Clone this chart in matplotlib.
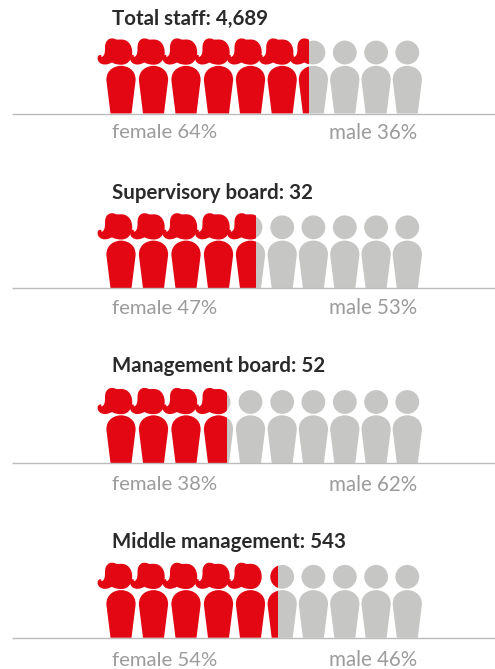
import matplotlib
matplotlib.use("Agg")
import matplotlib.pyplot as plt
from matplotlib.path import Path
from matplotlib.patches import PathPatch, Circle, Rectangle

# Workforce groups and their gender shares
groups = ["Total staff: 4,689", "Supervisory board: 32", "Management board: 52", "Middle management: 543"]
female_pct = [64, 47, 38, 54]
male_pct = [36, 53, 62, 46]
hair_counts = [7, 5, 4, 5]

RED = "#e30613"
GRAY = "#c6c6c4"
LABEL = "#9b9b9b"
TITLE = "#2a2a2a"
RULE = "#bcbcbc"
FONT = "Lato"

CENTERS = [121, 153.5, 186, 218.5, 250.5, 282.2, 313.4, 344.8, 376.1, 407.3]
RULE_Y = [113.5, 288.3, 463, 637.8]
TITLE_Y = [19, 193, 366.5, 542]
LABEL_Y = [133, 308, 485, 660]
ROW_X0, ROW_W = 107, 316


def body_path(cx, base):
    top = base - 47.7
    verts = [
        (cx - 10.5, base), (cx - 14.6, base - 33),
        (cx - 15.0, top + 3), (cx - 5, top), (cx, top),
        (cx + 5, top), (cx + 15.0, top + 3), (cx + 14.6, base - 33),
        (cx + 10.5, base), (cx - 10.5, base),
    ]
    codes = [Path.MOVETO, Path.LINETO, Path.CURVE4, Path.CURVE4, Path.CURVE4,
             Path.CURVE4, Path.CURVE4, Path.CURVE4, Path.LINETO, Path.CLOSEPOLY]
    return Path(verts, codes)


def hair_path(cx, base):
    # Outline drawn clockwise from the curl, offsets from the head centre
    cy = base - 61
    pts = [
        (-23.4, 5.6),
        (-23.6, 9.0), (-20.5, 12.4), (-15.5, 12.0),
        (-12.0, 11.7), (-10.5, 10.6), (-9.0, 10.0),
        (-6.0, 11.8), (-2.5, 12.2), (0.5, 12.2),
        (8.0, 12.2), (11.2, 5.5), (11.2, 0.0),
        (11.2, -7.5), (7.0, -13.2), (0.0, -13.0),
        (-2.0, -13.0), (-3.5, -12.8), (-5.0, -13.0),
        (-7.0, -14.4), (-9.5, -14.2), (-11.0, -13.8),
        (-15.0, -12.5), (-16.0, -8.5), (-16.0, -5.0),
        (-16.0, -1.5), (-16.0, 1.5), (-17.6, 3.2),
        (-18.6, 4.4), (-20.2, 5.2), (-19.6, 3.2),
        (-20.0, 1.6), (-23.2, 2.2), (-23.4, 5.6),
    ]
    verts = [(cx + dx, cy + dy) for dx, dy in pts]
    codes = [Path.MOVETO] + [Path.CURVE4] * (len(pts) - 1)
    return Path(verts, codes)


fig = plt.figure(figsize=(4.95, 6.69), dpi=100)
ax = fig.add_axes([0, 0, 1, 1])
ax.set_xlim(0, 495)
ax.set_ylim(669, 0)
ax.axis("off")

for k, (title, fem, mal, hair, base) in enumerate(zip(groups, female_pct, male_pct, hair_counts, RULE_Y)):
    split = ROW_X0 + ROW_W * fem / 100
    left = Rectangle((0, base - 100), split, 100, transform=ax.transData)
    right = Rectangle((split, base - 100), 495 - split, 100, transform=ax.transData)

    for i, cx in enumerate(CENTERS):
        marks = [(PathPatch(body_path(cx, base), fc=GRAY, ec="none"), right),
                 (Circle((cx, base - 61), 11.9, fc=GRAY, ec="none"), right),
                 (PathPatch(body_path(cx, base), fc=RED, ec="none"), left)]
        if i < hair:
            marks.append((PathPatch(hair_path(cx, base), fc=RED, ec="none"), left))
        else:
            marks.append((Circle((cx, base - 61), 11.9, fc=RED, ec="none"), left))
        for patch, clip in marks:
            ax.add_patch(patch)
            patch.set_clip_path(clip)

    ax.plot([12, 495], [base, base], color=RULE, lw=1.0, solid_capstyle="butt", zorder=5)
    ax.text(112.5, TITLE_Y[k], title, family=FONT, weight="bold", fontsize=14.8, color=TITLE, va="center", ha="left")
    ax.text(112, LABEL_Y[k], f"female {fem}%", family=FONT, fontsize=14.6, color=LABEL, va="center", ha="left")
    ax.text(417, LABEL_Y[k], f"male {mal}%", family=FONT, fontsize=14.8, color=LABEL, va="center", ha="right")

fig.savefig("out.png", dpi=100)
